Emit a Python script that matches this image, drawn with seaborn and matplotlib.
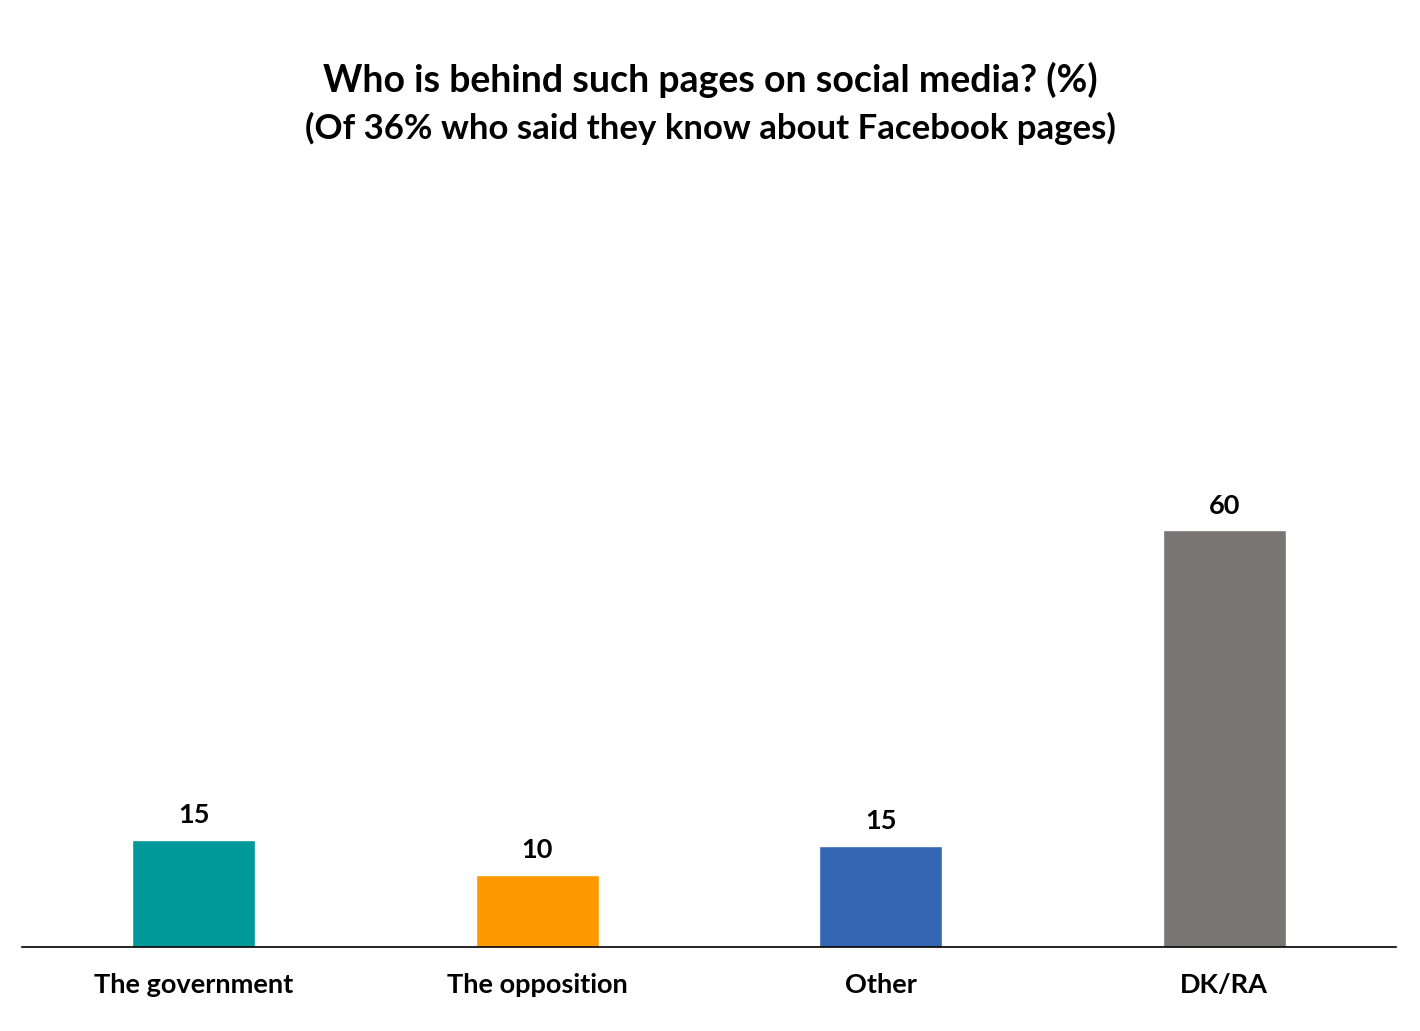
import matplotlib
matplotlib.use("Agg")
import matplotlib.pyplot as plt
import seaborn as sns
import pandas as pd

# data
categories = ["The government", "The opposition", "Other", "DK/RA"]
values = [15.4, 10.4, 14.6, 60.0]
colors = ["#009999", "#FF9900", "#3366B2", "#787574"]

df = pd.DataFrame({"who": categories, "pct": values})

sns.set_theme(style="white")
plt.rcParams['font.family'] = ['Lato', 'DejaVu Sans']

fig = plt.figure(figsize=(14.2, 10.31), dpi=100)
ax = fig.add_axes([22/1420, 84/1031, 1374/1420, 777/1031])

sns.barplot(data=df, x="who", y="pct", hue="who", palette=colors,
            width=0.358, saturation=1, legend=False, ax=ax)

for p, v in zip(ax.patches, values):
    ax.annotate(f"{round(v)}", (p.get_x() + p.get_width() / 2, p.get_height()),
                xytext=(0, 9), textcoords="offset points",
                ha="center", va="bottom", fontsize=19.5, fontweight="bold",
                color="black")

ax.set_xlim(-0.5, 3.5)
ax.set_ylim(0, 111.8)
ax.set_xlabel("")
ax.set_ylabel("")
ax.set_yticks([])
ax.tick_params(axis="x", length=0, pad=19, labelsize=19.5, labelcolor="black")
for lbl in ax.get_xticklabels():
    lbl.set_fontweight("bold")
for s in ["top", "left", "right"]:
    ax.spines[s].set_visible(False)
ax.spines["bottom"].set_color("black")
ax.spines["bottom"].set_linewidth(1.2)

fig.text(0.5, 1 - 80/1031, "Who is behind such pages on social media? (%)",
         ha="center", va="center", fontsize=27, fontweight="bold", color="black")
fig.text(0.5, 1 - 128/1031, "(Of 36% who said they know about Facebook pages)",
         ha="center", va="center", fontsize=25, fontweight="bold", color="black")

fig.savefig("out.png", dpi=100)
